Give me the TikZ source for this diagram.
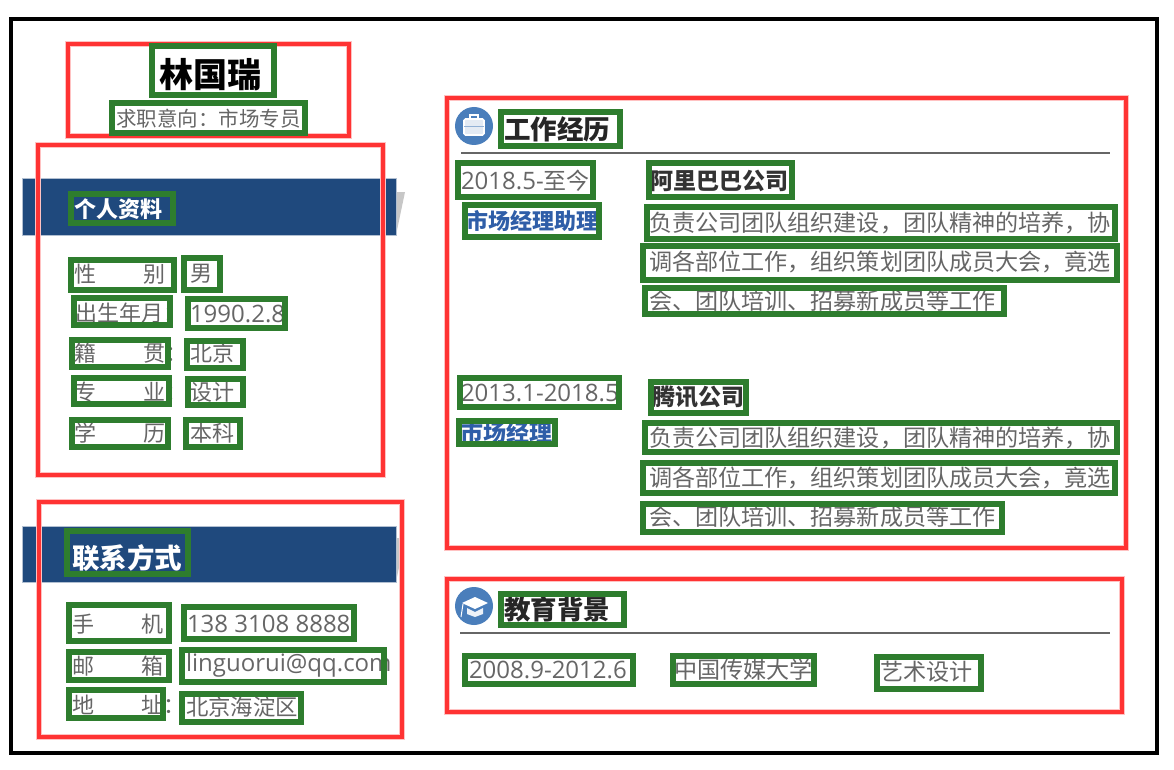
\documentclass[tikz,border=0pt]{standalone}
\usepackage{fontspec}
\setmainfont{Noto Sans CJK SC}
\newfontfamily\lat{Open Sans}
\newcommand{\fs}[1]{\fontsize{#1pt}{#1pt}\selectfont}
\newcommand{\spreadlabel}[3]{\makebox[#1pt][s]{#2\hfill #3}}
\definecolor{bandblue}{HTML}{1F497D}
\definecolor{boxgreen}{HTML}{2E7D2E}
\definecolor{boxred}{HTML}{FF3333}
\definecolor{iconblue}{HTML}{4A7EBB}
\definecolor{bodygray}{HTML}{666666}
\definecolor{linkblue}{HTML}{2F5EA8}
\tikzset{
  x=1pt,y=-1pt,
  txt/.style={anchor=west,inner sep=0pt,outer sep=0pt,text=bodygray,font=\fs{22}},
  para/.style={txt,font=\fs{23.1}},
  head/.style={txt,text=black!85,font=\fs{26.5}\bfseries},
  sub/.style={txt,text=black!80,font=\fs{23}\bfseries},
  whitehead/.style={txt,text=white,font=\bfseries},
  link/.style={txt,text=linkblue,font=\fs{22}\bfseries},
  latin/.style={txt,font=\fs{24}\lat},
  gbox/.style={draw=boxgreen,line width=6pt,miter limit=10},
  rbox/.style={draw=boxred,line width=3.6pt,preaction={draw=boxred!30,line width=6.5pt}},
  band/.style={fill=bandblue,draw=bandblue!35,line width=1pt},
  rulel/.style={draw=black!60,line width=1.6pt},
  icon/.style={circle,fill=iconblue,minimum size=38pt,inner sep=0pt},
}
\begin{document}
\begin{tikzpicture}
\useasboundingbox (0,0) rectangle (1174,770);
\fill[white] (0,0) rectangle (1174,770);
\draw[black,line width=4pt] (11,19) rectangle (1157,753);
% bands with shadows
\fill[black!22] (396,192) -- (405,192) -- (396,235) -- cycle;
\fill[black!22] (396,538) -- (405,538) -- (396,582) -- cycle;
\path[band] (22,179) rectangle (396,235);
\path[band] (22,526) rectangle (396,582);
% red regions
\path[rbox] (68,44) rectangle (349,136);
\path[rbox] (38,145) rectangle (383,475);
\path[rbox] (39,502) rectangle (402,737);
\path[rbox] (447,98) rectangle (1126,548);
\path[rbox] (447,579) rectangle (1122,712);
% head
\node[txt,text=black,font=\fs{34}\bfseries] (name) at (159,75) {林国瑞};
\node[txt,font=\fs{20.5}] (intent) at (116,119) {求职意向：市场专员};
\node[whitehead,font=\fs{22}\bfseries] (personal) at (74,209) {个人资料};
% personal
\node[txt] (l1) at (74,274) {\spreadlabel{92}{性}{别}};
\node[txt] (v1) at (190,274) {男};
\node[txt] (l2) at (75,313) {出生年月：};
\node[latin] (v2) at (190,314) {1990.2.8};
\node[txt] (l3) at (74,353) {\spreadlabel{92}{籍}{贯}：};
\node[txt] (v3) at (190,353) {北京};
\node[txt] (l4) at (74,392) {\spreadlabel{92}{专}{业}：};
\node[txt] (v4) at (190,392) {设计};
\node[txt] (l5) at (74,433) {\spreadlabel{92}{学}{历}};
\node[txt] (v5) at (190,433) {本科};
% contact
\node[whitehead,font=\fs{27.5}\bfseries] (contact) at (72,558) {联系方式};
\node[txt] (c1) at (72,624) {\spreadlabel{92}{手}{机}};
\node[latin] (d1) at (187,624) {138 3108 8888};
\node[txt] (c2) at (72,666) {\spreadlabel{92}{邮}{箱}};
\node[latin] (d2) at (186,665) {linguorui@qq.com};
\node[txt] (c3) at (72,705) {\spreadlabel{92}{地}{址}：};
\node[txt,font=\fs{22.4}] (d3) at (186,707) {北京海淀区};
% work
\node[icon] (workicon) at (474,126) {};
\node[head] (worktitle) at (504,129) {工作经历};
\draw[rulel] (461,153) -- (1110,153);
\node[latin] (t1) at (461,181) {2018.5-\fs{23}\rmfamily 至今};
\node[sub] (co1) at (650,181) {阿里巴巴公司};
\node[link] (r1) at (466,221) {市场经理助理};
\node[para] (p11) at (649,223) {负责公司团队组织建设，团队精神的培养，协};
\node[para] (p12) at (649,262) {调各部位工作，组织策划团队成员大会，竟选};
\node[para] (p13) at (649,301) {会、团队培训、招募新成员等工作};
\node[latin] (t2) at (461,393) {2013.1-2018.5};
\node[sub] (co2) at (652,397) {腾讯公司};
\node[link,font=\fs{23}\bfseries] (r2) at (460,433) {市场经理};
\node[para] (p21) at (649,438) {负责公司团队组织建设，团队精神的培养，协};
\node[para] (p22) at (649,478) {调各部位工作，组织策划团队成员大会，竟选};
\node[para] (p23) at (649,517) {会、团队培训、招募新成员等工作};
% education
\node[icon] (eduicon) at (474,606) {};
\node[head] (edutitle) at (504,609) {教育背景};
\draw[rulel] (460,633) -- (1110,633);
\node[latin] (e1) at (469,670) {2008.9-2012.6};
\node[para] (e2) at (674,670) {中国传媒大学};
\node[para] (e3) at (880,672) {艺术设计};
% briefcase icon
\draw[white,line width=1.6pt,fill=white,fill opacity=.85,rounded corners=1.5pt] (464,119) rectangle (484,135);
\draw[white,line width=1.6pt] (470,119) -- (470,115) -- (478,115) -- (478,119);
\draw[iconblue!60,line width=.8pt] (464,126) -- (484,126);
% cap icon
\fill[white] (462,603) -- (475,597) -- (488,603) -- (475,609) -- cycle;
\fill[white,opacity=.9] (467,608) -- (475,612) -- (483,608) -- (483,614) -- (475,617) -- (467,614) -- cycle;
\draw[white,line width=1pt] (463,604) -- (461,617);
% green text boxes
\foreach \a/\b/\c/\d in {152/46/274/95,112/103/305/133,71/194/173/223,
 71/260/174/290,184/258/220/290,74/298/170/325,188/299/285/328,
 72/340/168/367,187/341/243/368,74/378/169/404,188/379/243/405,72/420/168/447,186/420/240/447,
 67/531/188/574,69/605/169/641,184/607/354/639,69/652/169/680,182/650/384/682,69/690/163/718,182/694/301/722,
 501/112/620/146,458/163/593/197,649/163/792/197,465/205/599/237,647/207/1115/239,643/246/1117/280,645/288/1004/314,
 460/378/619/407,651/382/746/413,459/421/555/444,645/423/1117/452,643/463/1115/493,643/504/1002/532,
 501/594/624/625,465/656/633/684,673/656/814/684,877/657/981/689}
  \draw[gbox] (\a,\b) rectangle (\c,\d);
\end{tikzpicture}
\end{document}
